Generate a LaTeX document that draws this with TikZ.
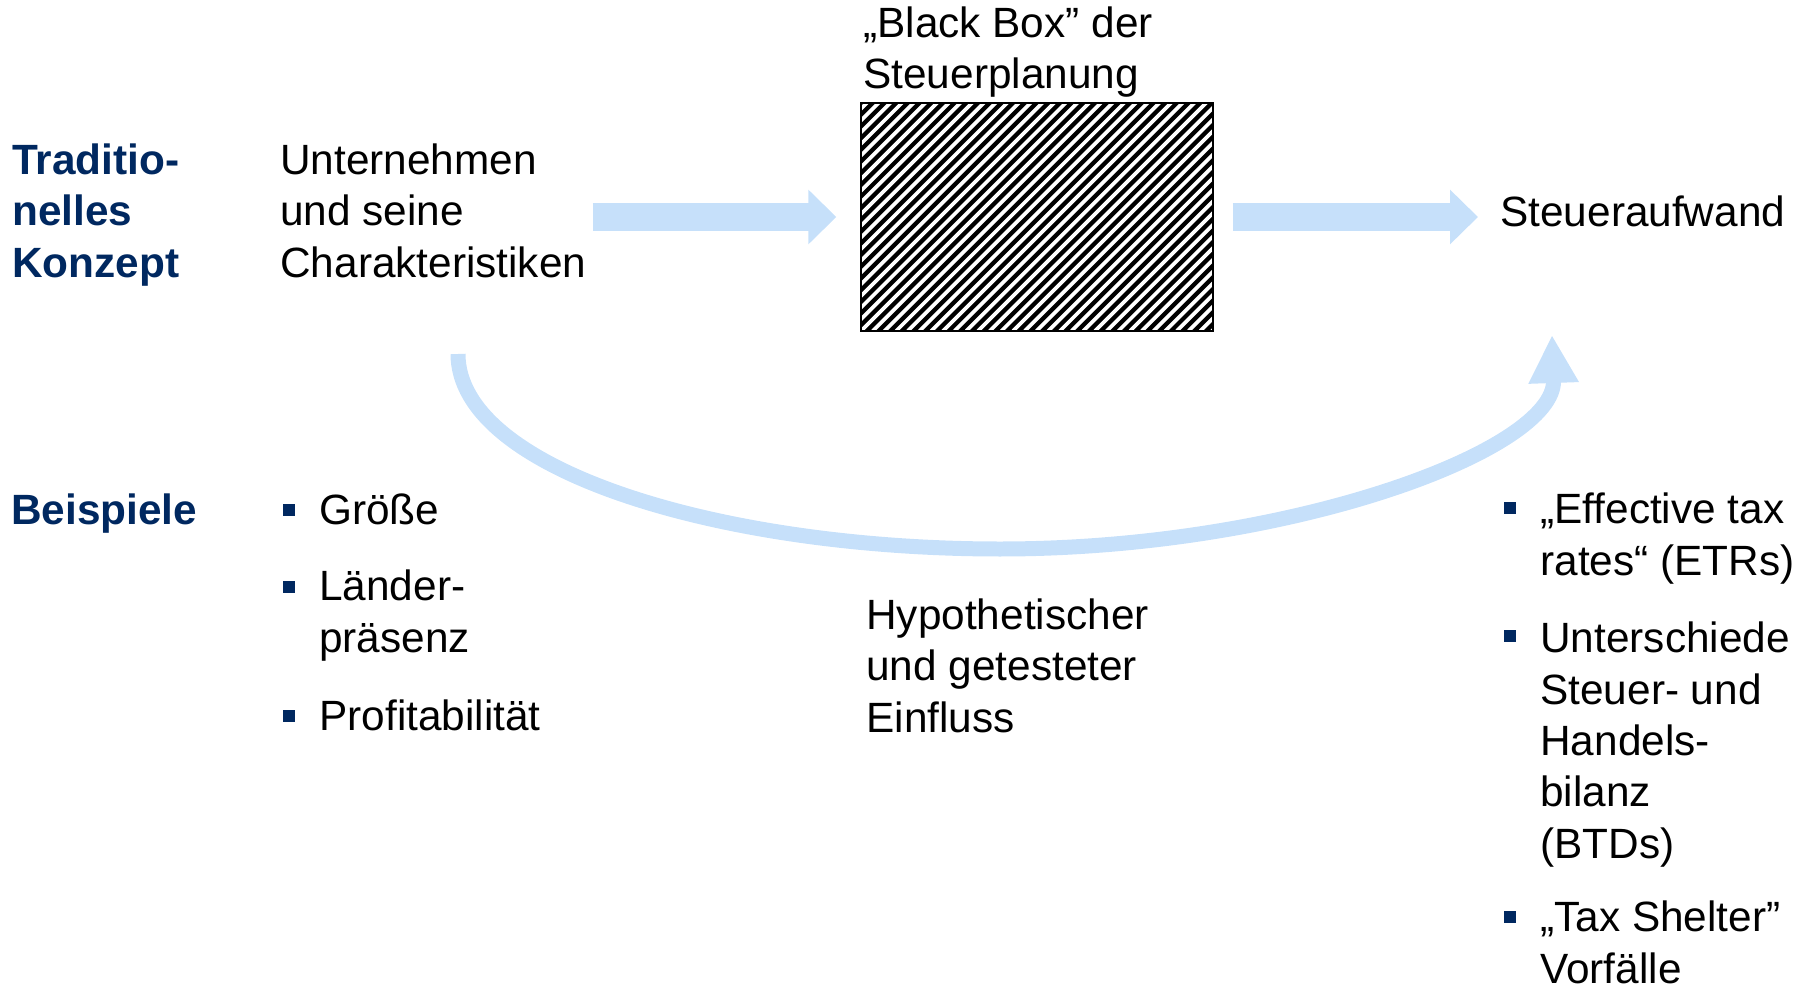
\documentclass[tikz,border=0pt]{standalone}
\usepackage{fontspec}
\setmainfont{Liberation Sans}
\usetikzlibrary{arrows.meta}

\definecolor{arrowblue}{RGB}{198,224,250}
\definecolor{headblue}{RGB}{0,40,96}

\tikzset{
  txt/.style={inner sep=0pt,anchor=base west,align=left,
    font=\fontsize{24.1pt}{29.2pt}\selectfont},
  headtxt/.style={txt,text=headblue,
    font=\fontsize{24.1pt}{29.2pt}\selectfont\bfseries},
  bulletsq/.style={fill=headblue,inner sep=0pt,minimum size=0.24cm},
  blockarrow/.style={arrowblue,line width=0.56cm,
    -{Triangle[length=0.56cm,width=1.06cm]}},
  curvearrow/.style={arrowblue,line width=0.3cm,
    -{Triangle[length=0.96cm,width=0.94cm]}},
  blackbox/.style={draw=black,fill=black,line width=0.8pt,inner sep=0pt,
    minimum width=7.04cm,minimum height=4.56cm,
    path picture={
      \foreach \k in {-22,...,31}
        \draw[white,line width=2.1pt]
          ([xshift=\k*0.234cm]path picture bounding box.south west) -- ++(250,-250);
    }}
}

\begin{document}
\begin{tikzpicture}[x=0.02cm,y=-0.02cm]
    \useasboundingbox (0,0) rectangle (1810,990);

    % The row headings (base = last line)
    \node[headtxt] (trad) at (12,277) {Traditio-\\nelles\\Konzept};
    \node[headtxt] (bsp) at (11,524) {Beispiele};

    % The upper chain
    \node[txt] (firm) at (280,277) {Unternehmen\\und seine\\Charakteristiken};
    \node[txt] (bbtitle) at (863,89) {„Black Box” der\\Steuerplanung};
    \node[blackbox] (bbox) at (1037,217) {};
    \node[txt] (steuer) at (1500,226) {Steueraufwand};

    % The straight arrows
    \draw[blockarrow,shorten <=0.12cm,shorten >=0.48cm] (firm.east |- bbox.west) -- (bbox.west);
    \draw[blockarrow,shorten <=0.38cm,shorten >=0.44cm] (bbox.east) -- (steuer.west |- bbox.east);

    % The curved arrow below
    \coordinate (curvestart) at (458,354);
    \coordinate (curvelow) at (1000,549);
    \coordinate (curveend) at (1552,335);
    \draw[curvearrow] (curvestart) .. controls (458,470) and (720,549) .. (curvelow)
      .. controls (1290,549) and (1556,450) .. (curveend);

    \node[txt] (hyp) at (866,732) {Hypothetischer\\und getesteter\\Einfluss};

    % The examples on the left
    \node[bulletsq] (bl1) at (289,510) {};
    \node[bulletsq] (bl2) at (289,587) {};
    \node[bulletsq] (bl3) at (289,716) {};
    \node[txt] (groesse) at (319,524) {Größe};
    \node[txt] (laender) at (319,652) {Länder-\\präsenz};
    \node[txt] (profit) at (319,730) {Profitabilität};

    % The examples on the right
    \node[bulletsq] (br1) at (1510,508) {};
    \node[bulletsq] (br2) at (1510,636) {};
    \node[bulletsq] (br3) at (1510,917) {};
    \node[txt] (etr) at (1540,575) {„Effective tax\\rates“ (ETRs)};
    \node[txt] (btd) at (1540,858) {Unterschiede\\Steuer- und\\Handels-\\bilanz\\(BTDs)};
    \node[txt] (shelter) at (1540,983) {„Tax Shelter”\\Vorfälle};
\end{tikzpicture}
\end{document}
